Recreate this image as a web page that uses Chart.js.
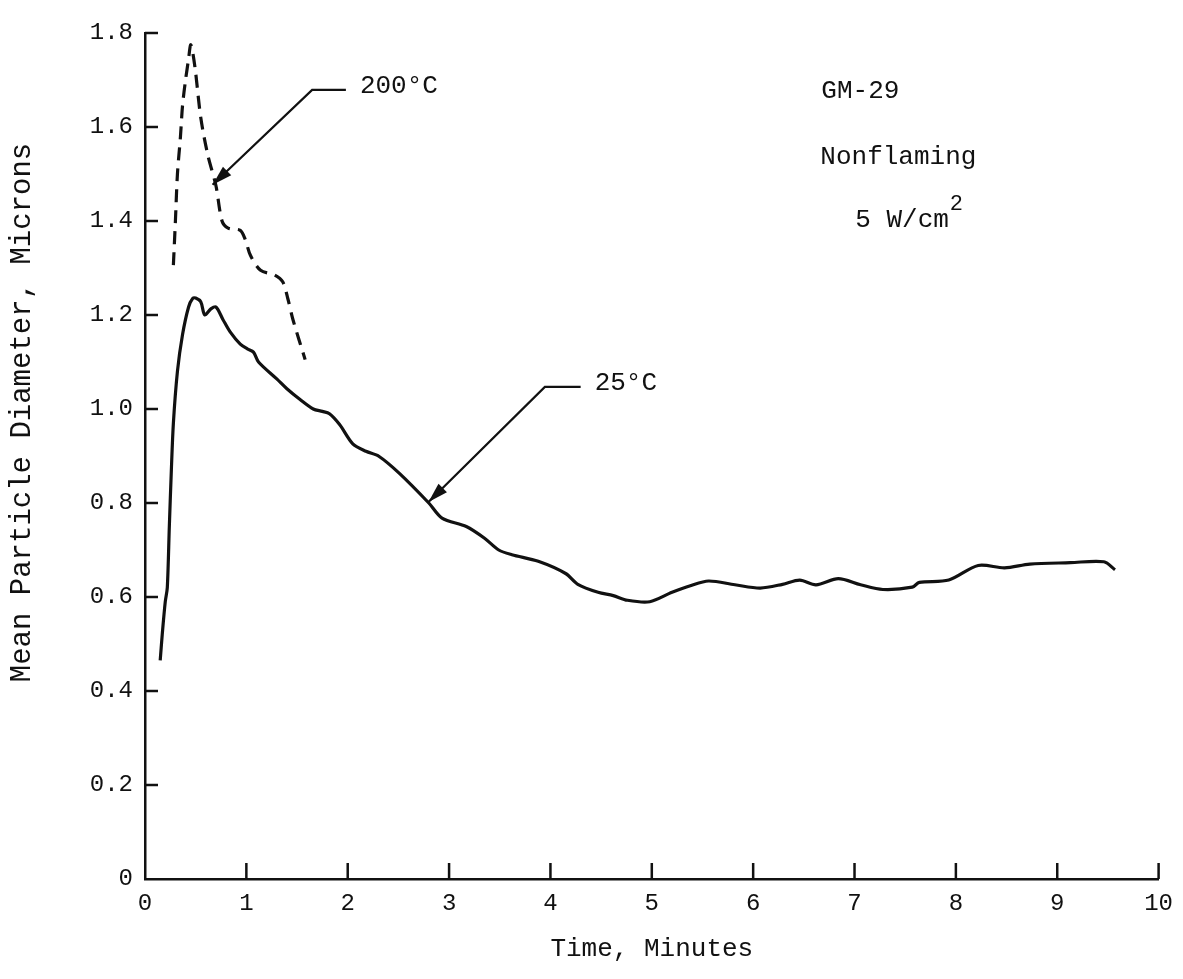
<!DOCTYPE html>
<html>
<head>
<meta charset="utf-8">
<title>GM-29 Nonflaming 5 W/cm2 - Mean Particle Diameter</title>
<script src="https://cdn.jsdelivr.net/npm/chart.js@4.4.1/dist/chart.umd.min.js"></script>
<style>
  html, body { margin: 0; padding: 0; background: #fff; }
  #wrap { width: 1183px; height: 979px; }
</style>
</head>
<body>
<div id="wrap"><canvas id="chart" width="1183" height="979"></canvas></div>
<script>
// Axis ticks
const timeTicks = [0, 1, 2, 3, 4, 5, 6, 7, 8, 9, 10];
const sizeTicks = [0, 0.2, 0.4, 0.6, 0.8, 1.0, 1.2, 1.4, 1.6, 1.8];
const sizeTickLabels = ['0', '0.2', '0.4', '0.6', '0.8', '1.0', '1.2', '1.4', '1.6', '1.8'];

// 25 C run (solid line)
const time25 = [0.15, 0.17, 0.20, 0.22, 0.24, 0.26, 0.28, 0.32, 0.37, 0.43, 0.47, 0.50, 0.55, 0.59,
  0.65, 0.70, 0.77, 0.84, 0.94, 1.01, 1.07, 1.12, 1.30, 1.40, 1.53, 1.66, 1.75, 1.82, 1.92, 2.05,
  2.18, 2.31, 2.51, 2.80, 2.93, 3.17, 3.35, 3.49, 3.62, 3.88, 4.15, 4.27, 4.47, 4.62, 4.76, 4.98,
  5.20, 5.38, 5.56, 5.82, 6.07, 6.29, 6.46, 6.62, 6.84, 7.06, 7.28, 7.57, 7.64, 7.93, 8.22, 8.48,
  8.73, 9.13, 9.46, 9.57];
const diam25 = [0.465, 0.52, 0.59, 0.62, 0.75, 0.87, 0.97, 1.08, 1.158, 1.217, 1.235, 1.236, 1.228, 1.20,
  1.213, 1.217, 1.19, 1.164, 1.138, 1.128, 1.121, 1.10, 1.064, 1.043, 1.02, 1.0, 0.995, 0.99, 0.967, 0.926,
  0.91, 0.899, 0.863, 0.80, 0.768, 0.75, 0.725, 0.70, 0.69, 0.676, 0.65, 0.627, 0.61, 0.603, 0.593, 0.59,
  0.61, 0.624, 0.634, 0.626, 0.619, 0.627, 0.636, 0.626, 0.639, 0.626, 0.616, 0.621, 0.631, 0.636, 0.667, 0.662,
  0.67, 0.673, 0.675, 0.658];

// 200 C run (dashed line)
const time200 = [0.28, 0.30, 0.32, 0.35, 0.37, 0.40, 0.43, 0.45, 0.47, 0.50, 0.55, 0.62, 0.70, 0.76,
  0.82, 0.94, 0.99, 1.04, 1.14, 1.28, 1.36, 1.41, 1.46, 1.58];
const diam200 = [1.306, 1.40, 1.50, 1.58, 1.645, 1.70, 1.745, 1.775, 1.76, 1.715, 1.62, 1.54, 1.475, 1.40,
  1.385, 1.38, 1.36, 1.327, 1.295, 1.285, 1.27, 1.234, 1.19, 1.105];

// Callout labels: text, arrow tip / elbow / end in data units
const callouts = [
  { text: '200°C', tip: [0.667, 1.477], elbow: [1.649, 1.679], end: [1.982, 1.679] },
  { text: '25°C', tip: [2.797, 0.802], elbow: [3.945, 1.047], end: [4.298, 1.047] }
];
const notes = [
  { text: 'GM-29', at: [6.673, 1.677] },
  { text: 'Nonflaming', at: [6.663, 1.536] },
  { text: '5 W/cm', at: [7.007, 1.402], sup: '2' }
];

const FONT = '"Liberation Mono", "Courier New", monospace';
const INK = '#111';

const toPoints = (xs, ys) => xs.map((x, i) => ({ x: x, y: ys[i] }));

// tick marks point into the plot, so draw them ourselves
const inwardTicks = {
  id: 'inwardTicks',
  afterDraw(chart) {
    const { ctx, chartArea } = chart;
    const x = chart.scales.x, y = chart.scales.y;
    ctx.save();
    ctx.strokeStyle = INK;
    ctx.lineWidth = 2.5;
    timeTicks.forEach(t => {
      if (t === 0) return;
      const px = x.getPixelForValue(t);
      ctx.beginPath();
      ctx.moveTo(px, chartArea.bottom);
      ctx.lineTo(px, chartArea.bottom - 16);
      ctx.stroke();
    });
    sizeTicks.forEach(v => {
      if (v === 0) return;
      const py = y.getPixelForValue(v);
      ctx.beginPath();
      ctx.moveTo(chartArea.left, py);
      ctx.lineTo(chartArea.left + 13, py);
      ctx.stroke();
    });
    ctx.restore();
  }
};

const annotations = {
  id: 'annotations',
  afterDraw(chart) {
    const { ctx } = chart;
    const x = chart.scales.x, y = chart.scales.y;
    const P = p => [x.getPixelForValue(p[0]), y.getPixelForValue(p[1])];
    ctx.save();
    ctx.strokeStyle = INK;
    ctx.fillStyle = INK;
    ctx.lineWidth = 2.2;
    ctx.font = '26px ' + FONT;
    ctx.textBaseline = 'middle';

    callouts.forEach(c => {
      const tip = P(c.tip), elbow = P(c.elbow), end = P(c.end);
      ctx.beginPath();
      ctx.moveTo(end[0], end[1]);
      ctx.lineTo(elbow[0], elbow[1]);
      ctx.lineTo(tip[0], tip[1]);
      ctx.stroke();
      // arrow head
      const ang = Math.atan2(tip[1] - elbow[1], tip[0] - elbow[0]);
      const len = 20, half = 6;
      ctx.beginPath();
      ctx.moveTo(tip[0], tip[1]);
      ctx.lineTo(tip[0] - len * Math.cos(ang) + half * Math.sin(ang), tip[1] - len * Math.sin(ang) - half * Math.cos(ang));
      ctx.lineTo(tip[0] - len * Math.cos(ang) - half * Math.sin(ang), tip[1] - len * Math.sin(ang) + half * Math.cos(ang));
      ctx.closePath();
      ctx.fill();
      ctx.fillText(c.text, end[0] + 14, end[1] - 4);
    });

    notes.forEach(n => {
      const p = P(n.at);
      ctx.font = '26px ' + FONT;
      ctx.fillText(n.text, p[0], p[1]);
      if (n.sup) {
        const w = ctx.measureText(n.text).width;
        ctx.font = '22px ' + FONT;
        ctx.fillText(n.sup, p[0] + w + 1, p[1] - 16);
      }
    });
    ctx.restore();
  }
};

new Chart(document.getElementById('chart'), {
  type: 'scatter',
  data: {
    datasets: [
      {
        label: '25°C',
        data: toPoints(time25, diam25),
        showLine: true,
        borderColor: INK,
        borderWidth: 3.2,
        pointRadius: 0,
        tension: 0.3
      },
      {
        label: '200°C',
        data: toPoints(time200, diam200),
        showLine: true,
        borderColor: INK,
        borderWidth: 3.2,
        borderDash: [13, 8],
        pointRadius: 0,
        tension: 0.3
      }
    ]
  },
  options: {
    responsive: false,
    animation: false,
    layout: { padding: { top: 33, right: 19, left: 0, bottom: 0 } },
    plugins: {
      legend: { display: false },
      tooltip: { enabled: false }
    },
    scales: {
      x: {
        type: 'linear',
        min: 0,
        max: 10,
        afterFit: scale => { scale.height = 100; },
        afterBuildTicks: scale => { scale.ticks = timeTicks.map(v => ({ value: v })); },
        grid: { display: true, drawOnChartArea: false, drawTicks: false },
        border: { display: true, color: INK, width: 2.5 },
        ticks: {
          autoSkip: false,
          maxRotation: 0,
          padding: 10,
          color: INK,
          font: { family: FONT, size: 24 },
          callback: v => String(v)
        },
        title: {
          display: true,
          text: 'Time, Minutes',
          color: INK,
          font: { family: FONT, size: 26 },
          padding: { top: 0, bottom: 14 }
        }
      },
      y: {
        type: 'linear',
        min: 0,
        max: 1.8,
        afterFit: scale => { scale.width = 145; },
        afterBuildTicks: scale => { scale.ticks = sizeTicks.map(v => ({ value: v })); },
        grid: { display: true, drawOnChartArea: false, drawTicks: false },
        border: { display: true, color: INK, width: 2.5 },
        ticks: {
          autoSkip: false,
          padding: 12,
          color: INK,
          font: { family: FONT, size: 24 },
          callback: (v, i) => sizeTickLabels[i]
        },
        title: {
          display: true,
          // leading spaces lift the title a little above the axis centre, as in the original
          text: '     Mean Particle Diameter, Microns',
          color: INK,
          font: { family: FONT, size: 29 },
          padding: { top: 5, bottom: 0 }
        }
      }
    }
  },
  plugins: [inwardTicks, annotations]
});
</script>
</body>
</html>
